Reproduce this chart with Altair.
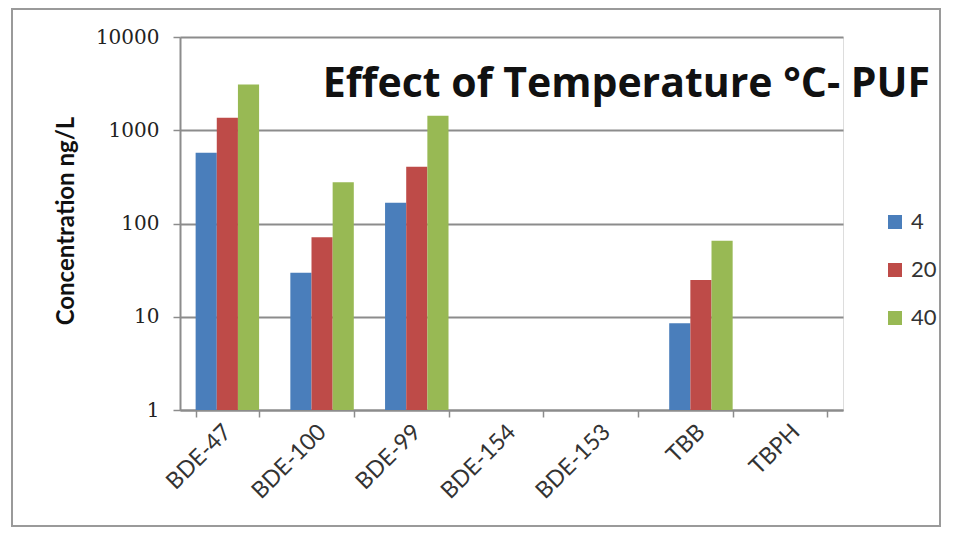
import altair as alt
import pandas as pd

categories = ["BDE-47", "BDE-100", "BDE-99", "BDE-154", "BDE-153", "TBB", "TBPH"]
series = ["4", "20", "40"]
vals_4 = [575, 29.7, 167, None, None, 8.5, None]
vals_20 = [1360, 71, 406, None, None, 24.8, None]
vals_40 = [3100, 277, 1430, None, None, 65.5, None]
colors = ["#4A7EBB", "#BE4B48", "#98B954"]
y_ticks = [1, 10, 100, 1000, 10000]
title_text = ["Effect of Temperature \u00b0C- PUF"]

rows = []
for s, vals in zip(series, [vals_4, vals_20, vals_40]):
    for c, v in zip(categories, vals):
        if v is not None:
            rows.append({"compound": c, "temp": s, "value": v})
df = pd.DataFrame(rows)

W, H = 663, 373
grey = "#8C8C8C"

bars = alt.Chart(df).mark_bar().encode(
    x=alt.X(
        "compound:N",
        sort=categories,
        scale=alt.Scale(domain=categories, paddingInner=0.33, paddingOuter=0.165),
        axis=alt.Axis(
            title=None,
            labelAngle=-45,
            labelAlign="right",
            labelBaseline="middle",
            labelFont="Lato",
            labelFontSize=23,
            labelColor="#333333",
            labelPadding=11,
            domainColor=grey,
            domainWidth=2,
            tickColor=grey,
            tickWidth=1.5,
            tickSize=7,
            tickBand="extent",
            grid=False,
        ),
    ),
    xOffset=alt.XOffset("temp:N", sort=series, scale=alt.Scale(domain=series)),
    y=alt.Y(
        "value:Q",
        scale=alt.Scale(type="log", domain=[1, 10000]),
        axis=alt.Axis(
            values=y_ticks,
            format="d",
            title="Concentration ng/L",
            titleFont="Lato",
            titleFontSize=24,
            titleFontWeight="bold",
            titleColor="#111111",
            titleX=-114,
            titleY=H / 2 - 3,
            titleAngle=-90,
            titleAlign="center",
            titleBaseline="middle",
            labelFont="DejaVu Serif",
            labelFontSize=20,
            labelColor="#222222",
            labelPadding=14,
            domainColor=grey,
            domainWidth=2,
            tickColor=grey,
            tickWidth=1.5,
            tickSize=7,
            grid=True,
            gridColor=grey,
            gridWidth=2,
        ),
    ),
    y2=alt.datum(1),
    color=alt.Color(
        "temp:N",
        sort=series,
        scale=alt.Scale(domain=series, range=colors),
        legend=alt.Legend(
            title=None,
            orient="none",
            legendX=704,
            legendY=174,
            symbolType="square",
            symbolSize=196,
            symbolStrokeWidth=0,
            labelFont="Lato",
            labelFontSize=22,
            labelColor="#333333",
            labelOffset=5,
            rowPadding=26,
            padding=0,
        ),
    ),
)

title = alt.Chart(pd.DataFrame({"t": title_text})).mark_text(
    align="right", baseline="alphabetic", font="Open Sans", fontSize=41,
    fontWeight="bold", color="#111111",
).encode(text="t:N", x=alt.value(750), y=alt.value(60))

frame = alt.Chart(pd.DataFrame({"k": [0]})).mark_rect(
    fillOpacity=0, stroke="#9A9A9A", strokeWidth=2
).encode(x=alt.value(-168), x2=alt.value(760), y=alt.value(-28), y2=alt.value(489))

chart = alt.layer(bars, title, frame).properties(
    width=W, height=H,
    padding={"left": 3, "top": 0, "right": 0, "bottom": 0},
).configure_view(stroke=None).configure(background="white")

chart.save("out.html", embed_options={"renderer": "svg", "actions": False})
